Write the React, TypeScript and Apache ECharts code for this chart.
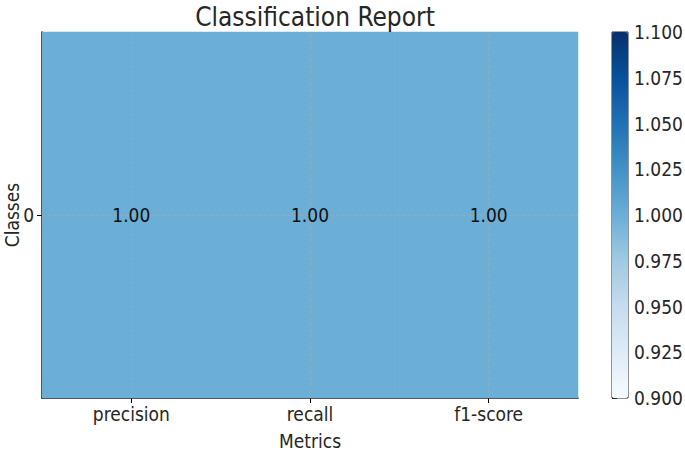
import React, { useEffect, useRef } from "react";
import * as echarts from "echarts";

const metrics = ["precision", "recall", "f1-score"];
const classes = ["0"];
const scores = [1.0, 1.0, 1.0];
const colorMin = 0.9;
const colorMax = 1.1;
const colorStep = 0.025;
const blues = ["#f7fbff", "#deebf7", "#c6dbef", "#9ecae1", "#6baed6", "#4292c6", "#2171b5", "#08519c", "#08306b"];

const FONT = "'DejaVu Sans Condensed', 'DejaVu Sans', sans-serif";
const INK = "#262626";

export default function App() {
  const ref = useRef<HTMLDivElement>(null);
  useEffect(() => {
    if (!ref.current) return;
    const chart = echarts.init(ref.current, null, { renderer: "svg" });
    const data: any[] = [];
    classes.forEach((_, ci) => {
      metrics.forEach((_, mi) => {
        data.push([mi, ci, scores[mi]]);
      });
    });
    const gridLine = { color: "rgba(170,170,170,0.7)", width: 1, type: [3, 3] };
    chart.setOption({
      animation: false,
      backgroundColor: "#ffffff",
      textStyle: { fontFamily: FONT },
      title: {
        text: "Classification Report",
        left: 310,
        textAlign: "center",
        top: -1,
        textStyle: { fontFamily: FONT, fontSize: 26, fontWeight: "normal", color: INK },
      },
      grid: [
        { left: 42, top: 32, width: 536, height: 366, containLabel: false, outerBoundsMode: "none" },
        {
          left: 612,
          top: 32,
          width: 16,
          height: 366,
          show: true,
          borderColor: INK,
          borderWidth: 1,
          backgroundColor: "transparent",
          containLabel: false,
          outerBoundsMode: "none",
        },
      ],
      xAxis: [
        {
          type: "category",
          data: metrics,
          gridIndex: 0,
          name: "Metrics",
          nameLocation: "middle",
          nameGap: 33,
          nameMoveOverlap: false,
          nameTextStyle: { fontFamily: FONT, fontSize: 19, color: INK },
          axisLine: { show: true, lineStyle: { color: "#000", width: 1.5 } },
          axisTick: { show: true, alignWithLabel: true, length: 5, lineStyle: { color: "#000" } },
          axisLabel: { fontFamily: FONT, fontSize: 19, color: INK, margin: 6 },
          splitLine: { show: false },
        },
        { type: "value", gridIndex: 1, show: false, min: 0, max: 1 },
      ],
      yAxis: [
        {
          type: "category",
          data: classes,
          gridIndex: 0,
          name: "Classes",
          nameLocation: "middle",
          nameGap: 21,
          nameMoveOverlap: false,
          nameRotate: 90,
          nameTextStyle: { fontFamily: FONT, fontSize: 19, color: INK },
          axisLine: { show: true, lineStyle: { color: "#000", width: 1.5 } },
          axisTick: { show: true, alignWithLabel: true, length: 5, lineStyle: { color: "#000" } },
          axisLabel: { fontFamily: FONT, fontSize: 19, color: INK, margin: 8 },
          splitLine: { show: false },
        },
        {
          type: "value",
          gridIndex: 1,
          position: "right",
          min: colorMin,
          max: colorMax,
          interval: colorStep,
          axisLine: { show: false },
          axisTick: { show: true, inside: false, length: 5, lineStyle: { color: INK } },
          axisLabel: {
            fontFamily: FONT,
            fontSize: 19,
            color: INK,
            margin: 6,
            formatter: (v: number) => v.toFixed(3),
          },
          splitLine: { show: false },
        },
      ],
      visualMap: {
        type: "continuous",
        min: colorMin,
        max: colorMax,
        dimension: 2,
        seriesIndex: 0,
        calculable: false,
        realtime: false,
        orient: "vertical",
        left: 612,
        top: 32,
        padding: 0,
        itemWidth: 16,
        itemHeight: 366,
        text: ["", ""],
        showLabel: false,
        hoverLink: false,
        inRange: { color: blues },
      },
      series: [
        {
          type: "heatmap",
          xAxisIndex: 0,
          yAxisIndex: 0,
          data,
          z: 2,
          label: { show: false },
          emphasis: { disabled: true },
          markLine: {
            silent: true,
            symbol: "none",
            label: { show: false },
            lineStyle: gridLine,
            data: [
              ...metrics.map((m) => ({ xAxis: m })),
              ...classes.map((c) => ({ yAxis: c })),
            ],
          },
        },
        {
          type: "scatter",
          xAxisIndex: 0,
          yAxisIndex: 0,
          data,
          z: 20,
          symbolSize: 0,
          silent: true,
          itemStyle: { opacity: 0 },
          label: {
            show: true,
            position: "inside",
            fontFamily: FONT,
            fontSize: 19,
            color: "#111",
            opacity: 1,
            textBorderWidth: 0,
            formatter: (p: any) => Number(p.value[2]).toFixed(2),
          },
          emphasis: { disabled: true },
        },
      ],
    });
    return () => chart.dispose();
  }, []);
  return (
    <div
      ref={ref}
      style={{ position: "fixed", left: 0, top: 0, width: 685, height: 451 }}
    />
  );
}
